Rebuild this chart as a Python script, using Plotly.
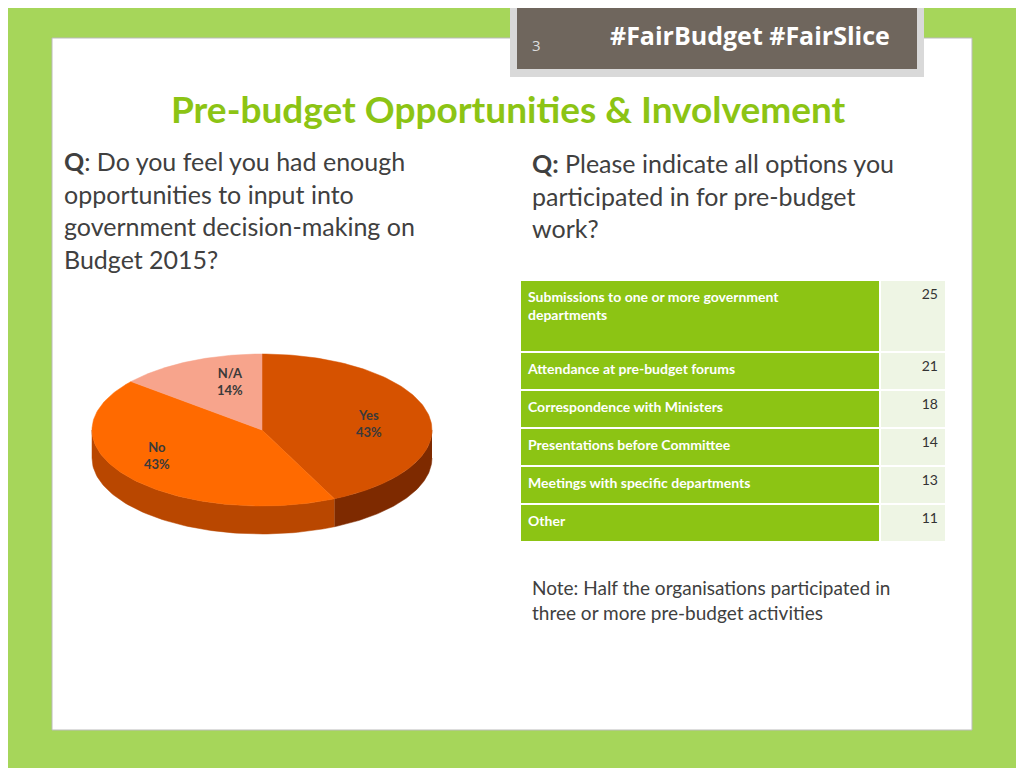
import numpy as np
import plotly.graph_objects as go

# data
pie_labels = ["Yes", "No", "N/A"]
pie_values = [43, 43, 14]
pie_top_colors = ["#D65200", "#FF6A00", "#F7A48C"]
pie_side_colors = ["#7E2A00", "#B94700", "#C07A66"]

activities = ["Submissions to one or more government<br>departments",
              "Attendance at pre-budget forums",
              "Correspondence with Ministers",
              "Presentations before Committee",
              "Meetings with specific departments",
              "Other"]
counts = [25, 21, 18, 14, 13, 11]

OFF = 8  # page body margin offset

fig = go.Figure()

# 3d-ish elliptical pie drawn in pixel space
cx, cy, rx, ry, depth = 262, 430, 170, 76, 28
total = sum(pie_values)
starts = np.cumsum([0] + pie_values[:-1]) / total * 2 * np.pi
ends = np.cumsum(pie_values) / total * 2 * np.pi

for a, b, col in zip(starts, ends, pie_side_colors):
    lo, hi = max(a, np.pi / 2), min(b, 3 * np.pi / 2)
    if lo >= hi:
        continue
    t = np.linspace(lo, hi, 80)
    x = cx + rx * np.sin(t)
    y = cy - ry * np.cos(t)
    xs = np.concatenate([x, x[::-1]])
    ys = np.concatenate([y, (y + depth)[::-1]])
    fig.add_trace(go.Scatter(x=xs, y=ys, fill="toself", fillcolor=col, mode="lines",
                             line=dict(color=col, width=0.5), hoverinfo="skip", showlegend=False))

for a, b, col in zip(starts, ends, pie_top_colors):
    t = np.linspace(a, b, 120)
    xs = np.concatenate([[cx], cx + rx * np.sin(t), [cx]])
    ys = np.concatenate([[cy], cy - ry * np.cos(t), [cy]])
    fig.add_trace(go.Scatter(x=xs, y=ys, fill="toself", fillcolor=col, mode="lines",
                             line=dict(color=col, width=0.5), hoverinfo="skip", showlegend=False))

label_pos = [(369, 423), (157, 455), (230, 381)]
for lab, v, (lx, ly) in zip(pie_labels, pie_values, label_pos):
    fig.add_annotation(x=lx, y=ly, text=f"<b>{lab}<br>{v}%</b>", showarrow=False,
                       font=dict(family="Lato", size=13, color="#3A3A3A"))

# table
def px_x(v):
    return (v - OFF) / 1024

def px_y(v):
    return (768 - (v - OFF)) / 768

fig.add_trace(go.Table(
    domain=dict(x=[px_x(520), px_x(946)], y=[px_y(545), px_y(280)]),
    columnwidth=[360, 66],
    header=dict(values=[f"<b>{activities[0]}</b>", str(counts[0])], height=72,
                fill_color=["#8CC414", "#EEF5E4"], align=["left", "right"],
                line=dict(color="white", width=2),
                font=dict(family="Lato", size=14, color=["white", "#333333"])),
    cells=dict(values=[[f"<b>{a}</b>" for a in activities[1:]], [str(c) for c in counts[1:]]],
               height=38, fill_color=["#8CC414", "#EEF5E4"], align=["left", "right"],
               line=dict(color="white", width=2),
               font=dict(family="Lato", size=14, color=["white", "#333333"])),
))

shapes = [
    dict(type="rect", x0=52, x1=972, y0=38, y1=730, fillcolor="white", line=dict(color="#BBBBBB", width=1), layer="below"),
    dict(type="rect", x0=510, x1=924, y0=-2, y1=77, fillcolor="#D9D9D9", line=dict(width=0), layer="below"),
    dict(type="rect", x0=517, x1=917, y0=-2, y1=69, fillcolor="#6F665D", line=dict(width=0), layer="below"),
]

txt = "#404040"
annots = [
    dict(x=750, y=35, text="<b>#FairBudget #FairSlice</b>", font=dict(family="Open Sans", size=25, color="white")),
    dict(x=536, y=45, text="3", font=dict(family="Open Sans", size=15, color="#DDDDDD")),
    dict(x=508, y=108, text="<b>Pre-budget Opportunities &amp; Involvement</b>", font=dict(family="Lato", size=37, color="#8CC414")),
    dict(x=62, y=210, xanchor="left", align="left",
         text="<b>Q</b>: Do you feel you had enough<br>opportunities to input into<br>government decision-making on<br>Budget 2015?",
         font=dict(family="Lato", size=25, color=txt)),
    dict(x=530, y=195, xanchor="left", align="left",
         text="<b>Q:</b> Please indicate all options you<br>participated in for pre-budget<br>work?",
         font=dict(family="Lato", size=25, color=txt)),
    dict(x=530, y=600, xanchor="left", align="left",
         text="Note: Half the organisations participated in<br>three or more pre-budget activities",
         font=dict(family="Lato", size=19, color=txt)),
]
for a in annots:
    fig.add_annotation(showarrow=False, **a)

fig.update_layout(
    width=1024, height=768, margin=dict(l=0, r=0, t=0, b=0),
    paper_bgcolor="#A6D65A", plot_bgcolor="rgba(0,0,0,0)", shapes=shapes,
    xaxis=dict(range=[OFF, 1024 + OFF], visible=False, fixedrange=True),
    yaxis=dict(range=[768 + OFF, OFF], visible=False, fixedrange=True),
)

fig.write_html("out.html")
